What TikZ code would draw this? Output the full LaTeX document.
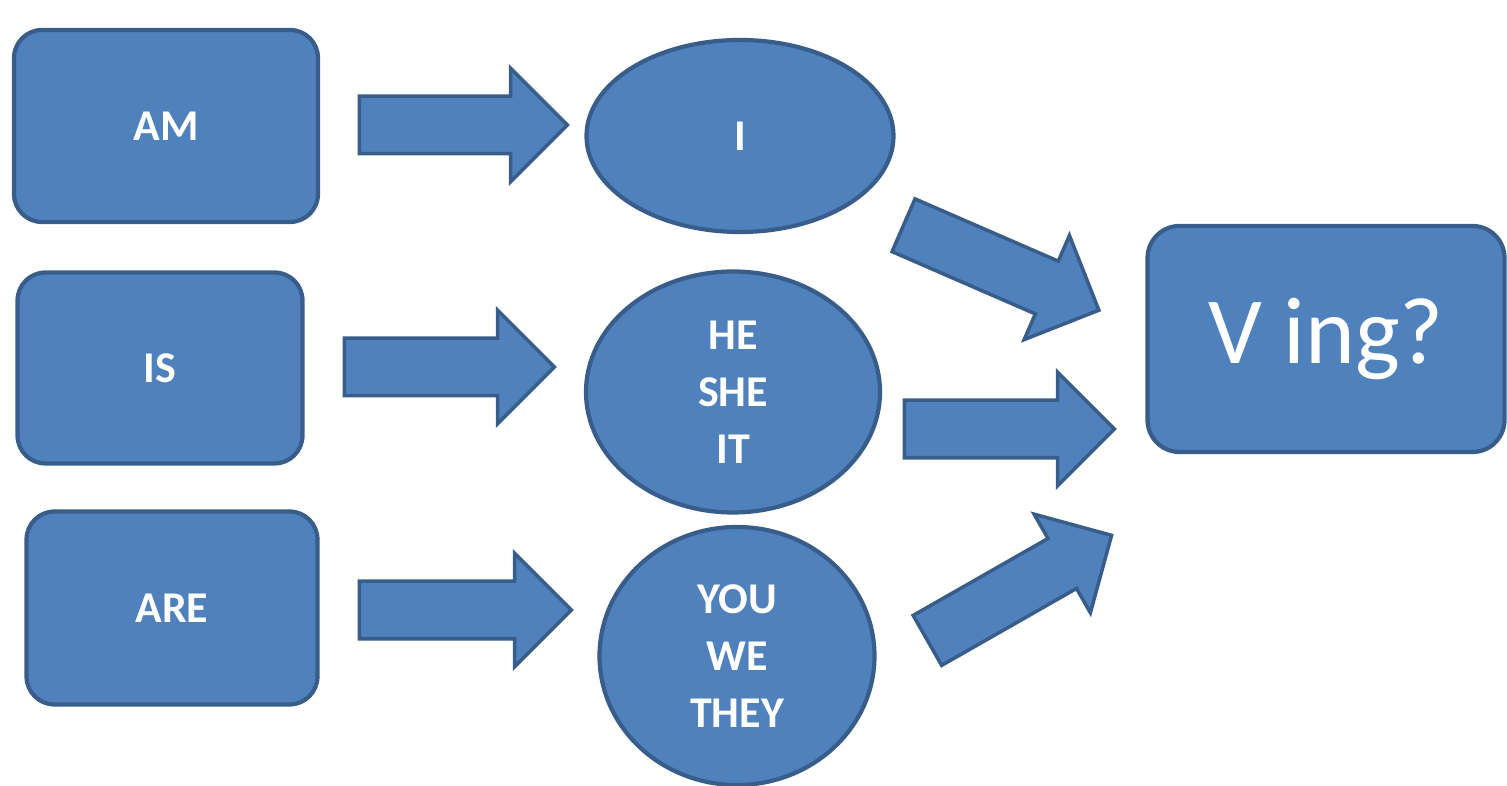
\documentclass[tikz,border=0pt]{standalone}
\usepackage{fontspec}
\setmainfont{Carlito}
\usepackage{xcolor}
\usetikzlibrary{shapes.geometric,shapes.arrows}

\definecolor{boxblue}{HTML}{4F81BD}
\definecolor{edgeblue}{HTML}{385D8A}

\begin{document}
\begin{tikzpicture}[
    verb/.style={rectangle, rounded corners=0.28cm, draw=edgeblue, fill=boxblue, line width=1.2pt, text=white, font=\fontsize{12.5}{16}\selectfont\bfseries},
    pron/.style={ellipse, draw=edgeblue, fill=boxblue, line width=1.2pt, text=white, align=center, inner sep=0pt, font=\fontsize{12.5}{16.2}\selectfont\bfseries},
    fat/.style={single arrow, draw=edgeblue, fill=boxblue, line width=1pt, inner xsep=0pt, inner ysep=0.27cm, single arrow head extend=0.28cm, single arrow tip angle=90}
    ]
    \useasboundingbox (0,0) rectangle (15.07,7.86);

    \node[verb, minimum width=3.04cm, minimum height=1.92cm] (am) at (1.66,6.60) {AM};
    \node[verb, minimum width=2.85cm, minimum height=1.91cm] (is) at (1.60,4.18) {IS};
    \node[verb, minimum width=2.91cm, minimum height=1.93cm] (are) at (1.72,1.78) {ARE};

    \node[pron, minimum width=3.07cm, minimum height=1.92cm] (i) at (7.40,6.50) {I};
    \node[pron, minimum width=2.94cm, minimum height=2.41cm] (he) at (7.33,3.94) {HE\\SHE\\IT};
    \node[pron, minimum width=2.75cm, minimum height=2.58cm] (you) at (7.37,1.30) {YOU\\WE\\THEY};

    \node[verb, rounded corners=0.32cm, minimum width=3.57cm, minimum height=2.26cm, font=\fontsize{27}{30}\selectfont] (ving) at (13.26,4.47) {V ing?};

    % block arrows
    \node[fat, minimum height=2.08cm] (am-i) at (4.49,6.61) {};
    \node[fat, minimum height=2.10cm] (is-he) at (4.35,4.19) {};
    \node[fat, minimum height=2.12cm] (are-you) at (4.51,1.76) {};

    \node[fat, minimum height=2.13cm, rotate=-23.5] (i-ving) at (9.88,5.24) {};
    \node[fat, minimum height=2.10cm] (he-ving) at (9.95,3.57) {};
    \node[fat, minimum height=2.12cm, rotate=29.7] (you-ving) at (10.07,1.91) {};
\end{tikzpicture}
\end{document}
